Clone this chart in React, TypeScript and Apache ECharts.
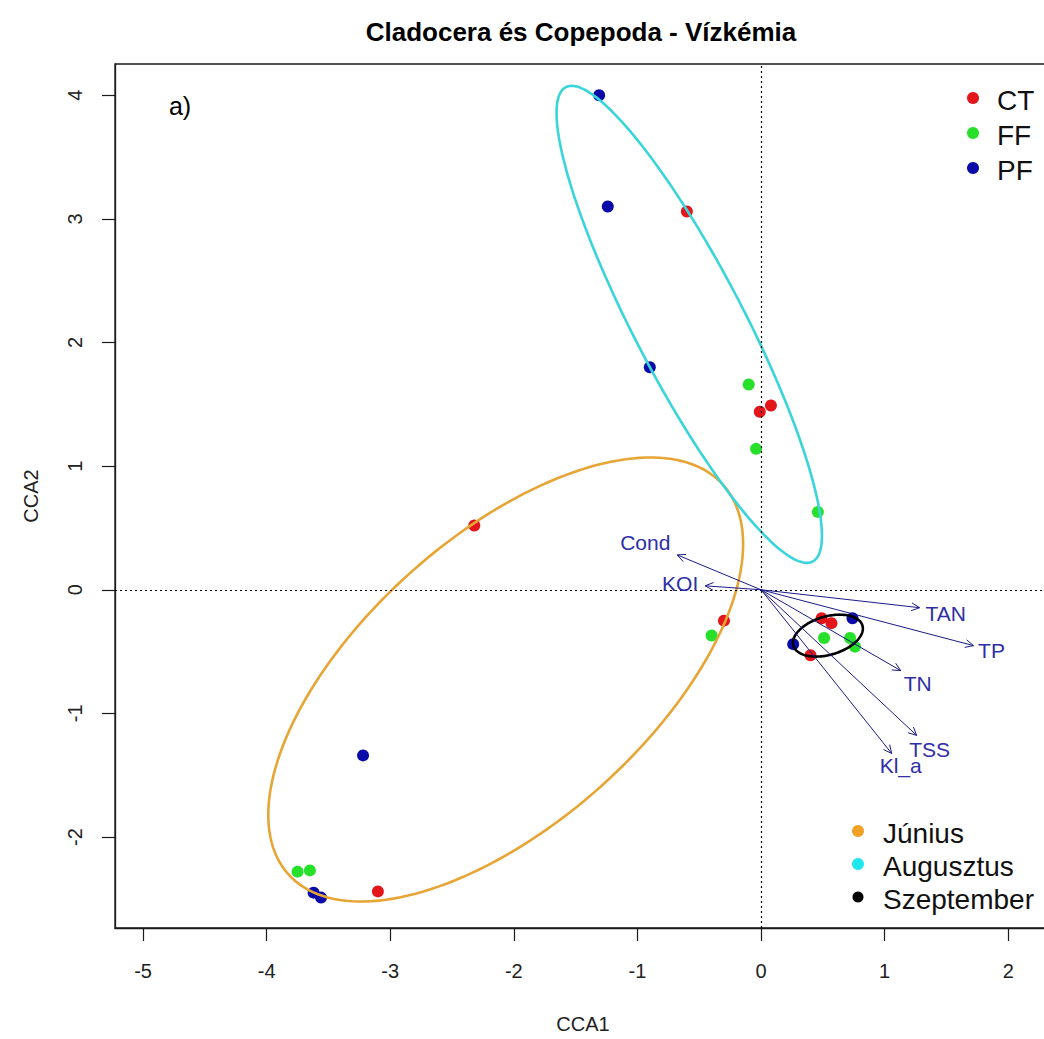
import { useEffect, useRef } from "react";
import * as echarts from "echarts";

// Site scores (CCA1, CCA2) by sampling site
const siteNames = ["CT", "FF", "PF"];
const ctScores = [
  [-0.6, 3.06], [-0.01, 1.44], [0.08, 1.49],
  [-2.32, 0.52], [-0.3, -0.25], [-3.1, -2.44],
  [0.49, -0.23], [0.57, -0.27], [0.4, -0.53],
];
const ffScores = [
  [-0.1, 1.66], [-0.04, 1.14], [0.46, 0.63],
  [-0.4, -0.37], [-3.75, -2.28], [-3.65, -2.27],
  [0.51, -0.39], [0.72, -0.39], [0.76, -0.46],
];
const pfScores = [
  [-1.31, 4.0], [-1.24, 3.1], [-0.9, 1.8],
  [-3.22, -1.34], [-3.62, -2.45], [-3.56, -2.49],
  [0.74, -0.23], [0.26, -0.44],
];

// Month groups: ellipse centre (x, y), semi-axes (a, b) and rotation in degrees
const monthNames = ["Június", "Augusztus", "Szeptember"];
const monthCentreX = [-2.066, -0.581, 0.541];
const monthCentreY = [-0.726, 2.147, -0.371];
const monthSemiMajor = [2.361, 2.163, 0.291];
const monthSemiMinor = [1.158, 0.444, 0.155];
const monthRotation = [41.85, -62.5, 16.2];

// Environmental vectors (biplot arrow heads)
const envNames = ["Cond", "KOI", "TAN", "TP", "TN", "TSS", "Kl_a"];
const envX = [-0.678, -0.452, 1.283, 1.719, 1.13, 1.259, 1.057];
const envY = [0.282, 0.032, -0.145, -0.452, -0.654, -1.178, -1.324];

const xTicks = [-5, -4, -3, -2, -1, 0, 1, 2];
const yTicks = [-2, -1, 0, 1, 2, 3, 4];

// Styling
const FONT = '"Liberation Sans", Arial, Helvetica, sans-serif';
const siteColors = ["#E3161B", "#27E02A", "#0A0AA8"];
const monthLineColors = ["#E6A535", "#3AD5DA", "#000000"];
const monthDotColors = ["#F2A126", "#22E6EE", "#000000"];
const arrowColor = "#1B1B8A";
const envTextColor = "#2E2EA6";
const envLabelOffsets = [
  [-32, -12], [-25, -2], [26, 6], [18, 5], [17, 13], [13, 14], [9, 12],
];

export default function App() {
  const ref = useRef<HTMLDivElement>(null);

  useEffect(() => {
    if (!ref.current) return;
    const chart = echarts.init(ref.current, null, { renderer: "svg" });

    const siteData = [ctScores, ffScores, pfScores];

    const scatterSeries = siteNames.map((name, i) => ({
      name,
      type: "scatter",
      z: 3,
      symbol: "circle",
      symbolSize: 12,
      itemStyle: { color: siteColors[i], opacity: 1 },
      data: siteData[i],
    }));

    const ellipseSeries = monthNames.map((name, m) => ({
      name,
      type: "custom",
      z: 4,
      silent: true,
      encode: { x: 0, y: 1 },
      data: [[monthCentreX[m], monthCentreY[m], monthSemiMajor[m], monthSemiMinor[m], monthRotation[m]]],
      renderItem: (_params: any, api: any) => {
        const cx = api.value(0);
        const cy = api.value(1);
        const a = api.value(2);
        const b = api.value(3);
        const rot = (api.value(4) * Math.PI) / 180;
        const pts: number[][] = [];
        const n = 180;
        for (let k = 0; k <= n; k++) {
          const t = (2 * Math.PI * k) / n;
          const ex = a * Math.cos(t);
          const ey = b * Math.sin(t);
          pts.push(
            api.coord([
              cx + ex * Math.cos(rot) - ey * Math.sin(rot),
              cy + ex * Math.sin(rot) + ey * Math.cos(rot),
            ])
          );
        }
        return {
          type: "polyline",
          shape: { points: pts },
          style: { stroke: monthLineColors[m], lineWidth: 2.6, fill: "none" },
        };
      },
    }));

    const arrowSeries = {
      name: "env",
      type: "custom",
      z: 5,
      silent: true,
      encode: { x: 0, y: 1 },
      data: envNames.map((_, i) => [envX[i], envY[i], i]),
      renderItem: (_params: any, api: any) => {
        const i = api.value(2);
        const end = api.coord([api.value(0), api.value(1)]);
        const org = api.coord([0, 0]);
        const ang = Math.atan2(end[1] - org[1], end[0] - org[0]);
        const L = 9;
        const spread = Math.PI / 7;
        const h1 = [end[0] - L * Math.cos(ang - spread), end[1] - L * Math.sin(ang - spread)];
        const h2 = [end[0] - L * Math.cos(ang + spread), end[1] - L * Math.sin(ang + spread)];
        const off = envLabelOffsets[i];
        return {
          type: "group",
          children: [
            {
              type: "line",
              shape: { x1: org[0], y1: org[1], x2: end[0], y2: end[1] },
              style: { stroke: arrowColor, lineWidth: 1 },
            },
            {
              type: "polyline",
              shape: { points: [h1, end, h2] },
              style: { stroke: arrowColor, lineWidth: 1, fill: "none" },
            },
            {
              type: "text",
              x: end[0] + off[0],
              y: end[1] + off[1],
              style: {
                text: envNames[i],
                fill: envTextColor,
                fontSize: 21,
                fontFamily: FONT,
                align: "center",
                verticalAlign: "middle",
              },
            },
          ],
        };
      },
    };

    const zeroLines = {
      name: "zero",
      type: "scatter",
      z: 1,
      data: [],
      silent: true,
      markLine: {
        silent: true,
        symbol: "none",
        label: { show: false },
        lineStyle: { type: [2, 3], color: "#000", width: 1.2 },
        data: [{ xAxis: 0 }, { yAxis: 0 }],
      },
    };

    const legendRows = (
      names: string[],
      colors: string[],
      dotX: number,
      textX: number,
      ys: number[],
      radii: number[]
    ) =>
      names.flatMap((name, i) => [
        {
          type: "circle",
          shape: { cx: dotX, cy: ys[i], r: radii[i] },
          style: { fill: colors[i] },
        },
        {
          type: "text",
          x: textX,
          y: ys[i] + 2,
          style: {
            text: name,
            fill: "#111",
            fontSize: 28,
            fontFamily: FONT,
            align: "left",
            verticalAlign: "middle",
          },
        },
      ]);

    chart.setOption({
      animation: false,
      backgroundColor: "#ffffff",
      grid: {
        show: true,
        left: 115,
        top: 64,
        width: 936,
        height: 866,
        borderColor: "#1a1a1a",
        borderWidth: 1.3,
        containLabel: false,
      },
      xAxis: {
        type: "value",
        min: -5.227,
        max: 2.346,
        name: "CCA1",
        nameLocation: "middle",
        nameGap: 86,
        nameTextStyle: { fontSize: 20, fontFamily: FONT, color: "#222" },
        splitLine: { show: false },
        axisLine: { show: true, onZero: false, lineStyle: { color: "#1a1a1a", width: 1.3 } },
        axisTick: {
          show: true,
          inside: false,
          length: 13,
          customValues: xTicks,
          lineStyle: { color: "#1a1a1a", width: 1.2 },
        },
        axisLabel: {
          customValues: xTicks,
          margin: 33,
          fontSize: 20,
          fontFamily: FONT,
          color: "#222",
        },
      },
      yAxis: {
        type: "value",
        min: -2.736,
        max: 4.253,
        name: "CCA2",
        nameLocation: "middle",
        nameGap: 74,
        nameRotate: 90,
        nameTextStyle: { fontSize: 20, fontFamily: FONT, color: "#222" },
        splitLine: { show: false },
        axisLine: { show: true, onZero: false, lineStyle: { color: "#1a1a1a", width: 1.3 } },
        axisTick: {
          show: true,
          inside: false,
          length: 13,
          customValues: yTicks,
          lineStyle: { color: "#1a1a1a", width: 1.2 },
        },
        axisLabel: {
          customValues: yTicks,
          rotate: 90,
          margin: 30,
          fontSize: 20,
          fontFamily: FONT,
          color: "#222",
        },
      },
      graphic: [
        {
          type: "text",
          x: 581,
          y: 32,
          style: {
            text: "Cladocera és Copepoda - Vízkémia",
            fill: "#000",
            fontSize: 26,
            fontWeight: "bold",
            fontFamily: FONT,
            align: "center",
            verticalAlign: "middle",
          },
        },
        {
          type: "text",
          x: 180,
          y: 106,
          style: {
            text: "a)",
            fill: "#000",
            fontSize: 25,
            fontFamily: FONT,
            align: "center",
            verticalAlign: "middle",
          },
        },
        ...legendRows(siteNames, siteColors, 973, 997, [98, 133, 168], [6, 6, 6]),
        ...legendRows(monthNames, monthDotColors, 858, 883, [831, 864, 897], [6, 6, 5.5]),
      ],
      series: [zeroLines, ...scatterSeries, ...ellipseSeries, arrowSeries],
    });

    return () => chart.dispose();
  }, []);

  return (
    <div
      style={{
        position: "fixed",
        left: 0,
        top: 0,
        width: 1044,
        height: 1039,
        overflow: "hidden",
        background: "#fff",
      }}
    >
      <div ref={ref} style={{ width: 1070, height: 1039 }} />
    </div>
  );
}
